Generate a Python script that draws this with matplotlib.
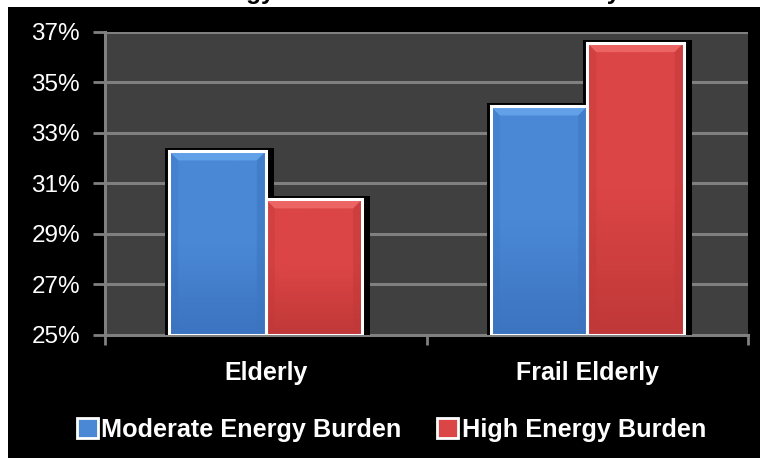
import matplotlib
matplotlib.use("Agg")
import matplotlib.pyplot as plt
import numpy as np
from matplotlib.patches import Rectangle, Polygon
from matplotlib.colors import LinearSegmentedColormap

categories = ["Elderly", "Frail Elderly"]
series_names = ["Moderate Energy Burden", "High Energy Burden"]
moderate = [32.27, 34.05]
high = [30.37, 36.56]
yticks = [25, 27, 29, 31, 33, 35, 37]
title = "Energy Burden Levels for the Elderly"

W, H = 760, 458
plt.rcParams["font.family"] = ["Liberation Sans", "DejaVu Sans"]
fig = plt.figure(figsize=(W / 100, H / 100), dpi=100, facecolor="white")

# black panel (white strip at top and left)
fig.patches.append(Rectangle((8 / W, 0), 1 - 8 / W, 1 - 7 / H, transform=fig.transFigure,
                             facecolor="black", edgecolor="none", zorder=-10))

# title, mostly clipped above the figure (as in the reference)
fig.text(406 / W, 1 + 0.5 / H, title, ha="center", va="baseline", fontsize=17.6,
         fontweight="bold", color="black")

ax_l, ax_r, ax_t, ax_b = 105, 748, 32, 335
ax = fig.add_axes([ax_l / W, 1 - ax_b / H, (ax_r - ax_l) / W, (ax_b - ax_t) / H])
ax.set_facecolor("#404040")
ax.set_xlim(-0.5, 1.5)
ax.set_ylim(25, 37)

px_x = 2.0 / (ax_r - ax_l)
px_y = 12.0 / (ax_b - ax_t)

bar_w = 0.30
colors = [("#4a88d6", "#62a0e8", "#3c74c0"), ("#dc4545", "#ec6464", "#c03838")]
x = np.arange(len(categories))

for si, (vals, (c_mid, c_top, c_bot)) in enumerate(zip([moderate, high], colors)):
    offs = (-0.5 + si) * bar_w
    for xi, v in zip(x, vals):
        x0 = xi + offs - bar_w / 2
        ax.add_patch(Rectangle((x0 - 4 * px_x, 25), bar_w + 12 * px_x, v - 25 + 3.5 * px_y,
                               facecolor="black", edgecolor="none", zorder=3))
    bars = ax.bar(x + offs, [v - 25 for v in vals], bottom=25, width=bar_w,
                  color=c_mid, edgecolor="none", zorder=4)
    for b, v in zip(bars, vals):
        x0 = b.get_x(); x1 = x0 + b.get_width(); top = v
        grad = np.linspace(0, 1, 100).reshape(-1, 1)
        cmap = LinearSegmentedColormap.from_list("g", [c_bot, c_mid, c_mid])
        im = ax.imshow(grad, extent=[x0, x1, 25, top], origin="lower", cmap=cmap,
                       aspect="auto", zorder=4.5)
        im.set_clip_path(b)
        d_x = 9 * px_x; d_y = 9 * px_y
        ax.add_patch(Polygon([[x0, top], [x1, top], [x1 - d_x, top - d_y], [x0 + d_x, top - d_y]],
                             closed=True, facecolor=c_top, edgecolor="none", zorder=5))
        ax.add_patch(Polygon([[x0, top], [x0 + d_x, top - d_y], [x0 + d_x, 25], [x0, 25]],
                             closed=True, facecolor=c_bot, edgecolor="none", alpha=0.35, zorder=5))
        ax.add_patch(Polygon([[x1, top], [x1 - d_x, top - d_y], [x1 - d_x, 25], [x1, 25]],
                             closed=True, facecolor=c_bot, edgecolor="none", alpha=0.5, zorder=5))
        ax.add_patch(Rectangle((x0, 25), b.get_width(), top - 25, facecolor="none",
                               edgecolor="white", linewidth=2.2, zorder=6))

ax.set_yticks(yticks)
ax.set_yticklabels([f"{t}%" for t in yticks], color="white", fontsize=17.5)
ax.grid(axis="y", color="#808080", linewidth=2.2, zorder=1)
ax.set_axisbelow(True)
ax.tick_params(axis="y", length=9, width=2, color="#808080", direction="out", pad=9)

ax.set_xticks(x)
ax.set_xticklabels(categories, color="white", fontsize=18, fontweight="bold")
ax.tick_params(axis="x", which="major", length=0, pad=19)
ax.set_xticks([-0.5, 0.5, 1.5], minor=True)
ax.tick_params(axis="x", which="minor", length=7, width=2, color="#808080", direction="out")

for s in ["top", "right"]:
    ax.spines[s].set_visible(False)
for s in ["left", "bottom"]:
    ax.spines[s].set_color("#808080")
    ax.spines[s].set_linewidth(2.2)
    ax.spines[s].set_zorder(2)

handles = [Rectangle((0, 0), 1, 1, facecolor=c[0], edgecolor="white", linewidth=2)
           for c in colors]
leg = fig.legend(handles, series_names, loc="center", ncol=2,
                 bbox_to_anchor=(391.5 / W, 1 - 430 / H), frameon=False,
                 prop={"size": 18.2, "weight": "bold"}, labelcolor="white",
                 handlelength=0.82, handleheight=0.82, handletextpad=0.15,
                 columnspacing=1.4, borderaxespad=0)

fig.savefig("out.png", dpi=100, facecolor=fig.get_facecolor())
